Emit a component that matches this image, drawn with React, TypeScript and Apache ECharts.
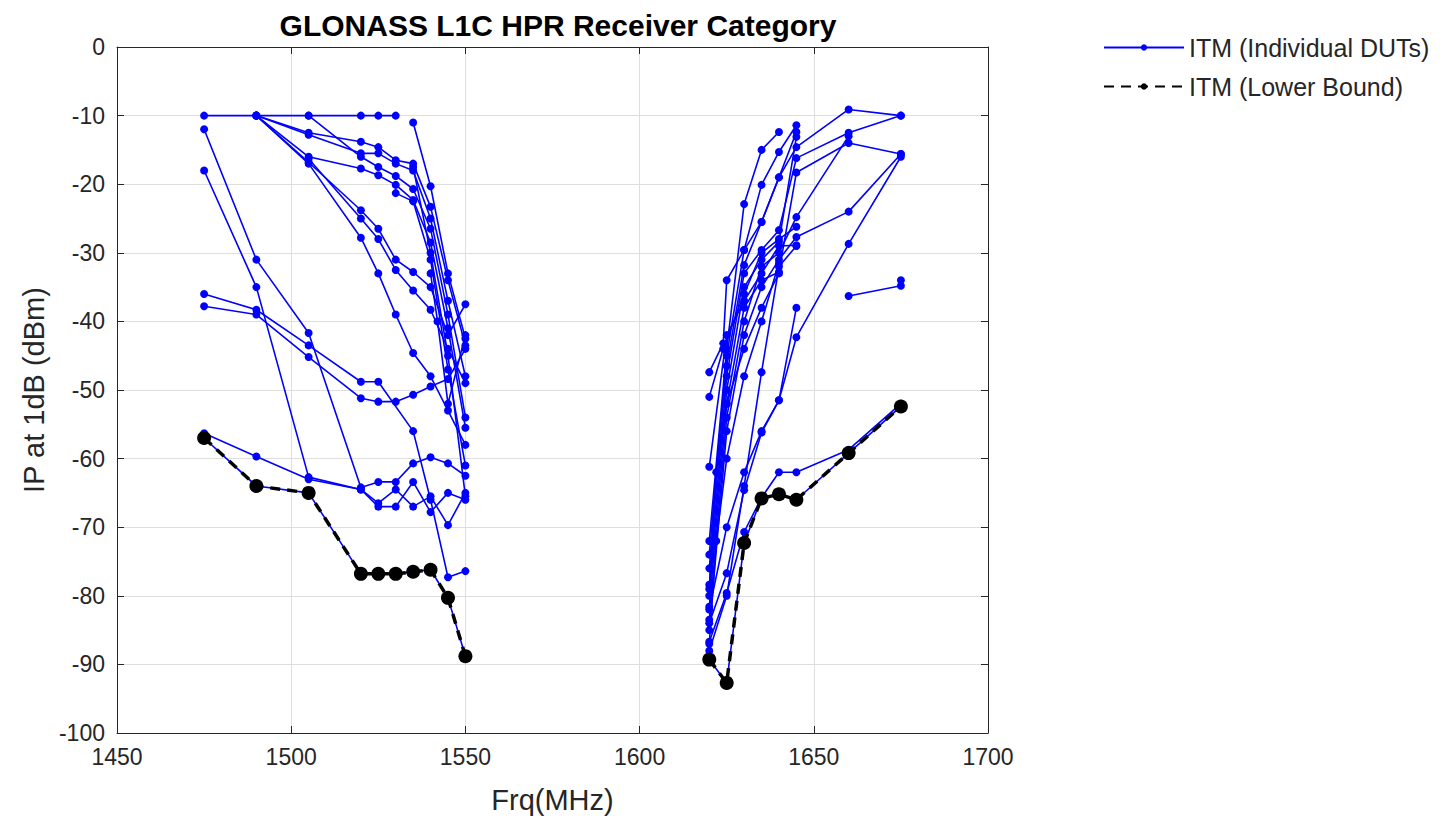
import React, { useEffect, useRef } from "react";
import * as echarts from "echarts";

type Pt = [number, number];

const TITLE = "GLONASS L1C HPR Receiver Category";
const X_NAME = "Frq(MHz)";
const Y_NAME = "IP at 1dB (dBm)";
const DUT_NAME = "ITM (Individual DUTs)";
const LB_NAME = "ITM (Lower Bound)";

// Lower bound (black dashed)
const lowerBoundLeft: Pt[] = [[1475, -57], [1490, -64], [1505, -65], [1520, -76.8], [1525, -76.8], [1530, -76.8], [1535, -76.5], [1540, -76.2], [1545, -80.3], [1550, -88.8]];
const lowerBoundRight: Pt[] = [[1620, -89.3], [1625, -92.7], [1630, -72.3], [1635, -65.8], [1640, -65.2], [1645, -66], [1660, -59.2], [1675, -52.4]];

// Individual DUTs, lower band
const dutL01: Pt[] = [[1475, -10], [1490, -10], [1505, -10], [1520, -10], [1525, -10], [1530, -10]];
const dutL02: Pt[] = [[1535, -11], [1540, -20.3], [1545, -33], [1550, -42.5]];
const dutL03: Pt[] = [[1490, -10], [1505, -12.5], [1520, -13.8], [1525, -14.6], [1530, -16.5], [1535, -17], [1540, -23.3], [1545, -34], [1550, -43.5]];
const dutL04: Pt[] = [[1490, -10], [1505, -12.8], [1520, -15.5], [1525, -15.5], [1530, -17], [1535, -18], [1540, -25], [1545, -37], [1550, -48]];
const dutL05: Pt[] = [[1505, -10], [1520, -16], [1525, -17.5], [1530, -18.8], [1535, -20.7], [1540, -26.5], [1545, -39], [1550, -54]];
const dutL06: Pt[] = [[1490, -10], [1505, -16], [1520, -17.7], [1525, -18.7], [1530, -20.1], [1535, -22.3], [1540, -28.5], [1545, -41], [1550, -55.5]];
const dutL07: Pt[] = [[1490, -10], [1505, -16.8], [1520, -23.8], [1525, -26.5], [1530, -31], [1535, -32.8], [1540, -35], [1545, -42], [1550, -37.5]];
const dutL08: Pt[] = [[1505, -16.3], [1520, -25], [1525, -28], [1530, -32.5], [1535, -35.5], [1540, -38.3], [1545, -44], [1550, -49]];
const dutL09: Pt[] = [[1490, -10], [1505, -17], [1520, -27.8], [1525, -33], [1530, -39], [1535, -44.6], [1540, -48], [1545, -53], [1550, -58]];
const dutL10: Pt[] = [[1530, -21.3], [1535, -22.5], [1540, -31], [1545, -47], [1550, -61]];
const dutL11: Pt[] = [[1475, -12], [1490, -31], [1505, -41.7], [1520, -64.2], [1525, -63.4], [1530, -63.4], [1535, -60.7], [1540, -59.8], [1545, -60.7], [1550, -62.5]];
const dutL12: Pt[] = [[1475, -18], [1490, -35], [1505, -62.7], [1520, -64.5], [1525, -67], [1530, -67], [1535, -63.4], [1540, -67.8], [1545, -65], [1550, -66]];
const dutL13: Pt[] = [[1475, -36], [1490, -38.3], [1505, -43.5], [1520, -48.8], [1525, -48.8], [1535, -56], [1540, -66], [1545, -77.3], [1550, -76.4]];
const dutL14: Pt[] = [[1475, -37.8], [1490, -39], [1505, -45.2], [1520, -51.2], [1525, -51.7], [1530, -51.7], [1535, -50.7], [1540, -49.5], [1545, -48.4], [1550, -44]];
const dutL15: Pt[] = [[1475, -56.3], [1490, -59.7], [1505, -63], [1520, -64.5], [1525, -66.5], [1530, -64.5], [1535, -67], [1540, -65.5], [1545, -69.7], [1550, -65]];
const dutL16: Pt[] = [[1475, -57], [1490, -64], [1505, -65], [1520, -76.8], [1525, -76.8], [1530, -76.8], [1535, -76.5], [1540, -76.2], [1545, -80.3], [1550, -88.8]];
const dutL17: Pt[] = [[1535, -17.5], [1540, -30], [1545, -45], [1550, -65.5]];
const dutL18: Pt[] = [[1540, -33], [1542, -40], [1545, -52], [1550, -42]];

// Individual DUTs, upper band
const dutR01: Pt[] = [[1620, -72], [1625, -44], [1630, -22.9], [1635, -15], [1640, -12.4]];
const dutR02: Pt[] = [[1620, -74], [1625, -45], [1630, -29.6], [1635, -20.1], [1640, -15.3], [1645, -11.4]];
const dutR03: Pt[] = [[1620, -76], [1625, -46.5], [1630, -31.8], [1635, -25.5], [1640, -19], [1645, -14.6], [1660, -9.1], [1675, -10]];
const dutR04: Pt[] = [[1620, -78.4], [1625, -48], [1630, -33], [1635, -29.6], [1640, -26.7], [1645, -16.2], [1660, -12.5], [1675, -10]];
const dutR05: Pt[] = [[1620, -80], [1625, -50], [1630, -35], [1635, -31], [1640, -28.4], [1645, -13.1]];
const dutR06: Pt[] = [[1620, -81.6], [1625, -52], [1630, -38], [1635, -34], [1640, -32.8], [1645, -18.3], [1660, -14], [1675, -15.6]];
const dutR07: Pt[] = [[1620, -83.5], [1625, -54], [1630, -40], [1635, -32], [1640, -30], [1645, -24.8], [1660, -13]];
const dutR08: Pt[] = [[1620, -85], [1625, -56], [1630, -42], [1635, -35], [1640, -31], [1645, -27.7], [1660, -24], [1675, -15.6]];
const dutR09: Pt[] = [[1620, -47.4], [1624, -43.2], [1625, -34], [1630, -29.6], [1635, -25.5], [1640, -19], [1645, -12.4]];
const dutR10: Pt[] = [[1620, -51], [1624, -44], [1630, -36], [1635, -30], [1640, -28], [1645, -26.2]];
const dutR11: Pt[] = [[1620, -61.2], [1625, -42], [1630, -37], [1635, -33], [1640, -29], [1645, -28.9]];
const dutR12: Pt[] = [[1620, -86.7], [1625, -79.6], [1630, -70.7], [1635, -65.7], [1640, -62], [1645, -62], [1660, -58.7], [1675, -52]];
const dutR13: Pt[] = [[1620, -89.3], [1625, -92.7], [1630, -72.3], [1635, -65.8], [1640, -65.2], [1645, -66], [1660, -59.2], [1675, -52.4]];
const dutR14: Pt[] = [[1620, -84], [1625, -76.7], [1630, -64.6], [1635, -56.2], [1640, -51.5], [1645, -42.3], [1660, -28.7], [1675, -16]];
const dutR15: Pt[] = [[1620, -82], [1625, -70], [1630, -62], [1635, -56], [1640, -51.5], [1645, -38]];
const dutR16: Pt[] = [[1620, -88], [1625, -80], [1630, -64], [1635, -47.4], [1640, -32], [1645, -29]];
const dutR17: Pt[] = [[1660, -36.3], [1675, -34.8]];
const dutR18: Pt[] = [[1675, -34]];
const dutR19: Pt[] = [[1620, -79], [1622, -62], [1625, -52], [1630, -44], [1635, -38], [1640, -33]];
const dutR20: Pt[] = [[1620, -87], [1622, -72], [1625, -60], [1630, -48], [1635, -40], [1640, -31.5]];

const dutSeriesData: Pt[][] = [
  dutL01, dutL02, dutL03, dutL04, dutL05, dutL06, dutL07, dutL08, dutL09,
  dutL10, dutL11, dutL12, dutL13, dutL14, dutL15, dutL16, dutL17, dutL18,
  dutR01, dutR02, dutR03, dutR04, dutR05, dutR06, dutR07, dutR08, dutR09,
  dutR10, dutR11, dutR12, dutR13, dutR14, dutR15, dutR16, dutR17, dutR18,
  dutR19, dutR20,
];
const lowerBoundData: Pt[][] = [lowerBoundLeft, lowerBoundRight];

const FONT = "'Liberation Sans', Arial, Helvetica, sans-serif";
const TXT = "#262626";

export default function App() {
  const ref = useRef<HTMLDivElement>(null);
  useEffect(() => {
    document.body.style.margin = "0";
    if (!ref.current) return;
    const chart = echarts.init(ref.current, undefined, { renderer: "svg" });

    const dutSeries = dutSeriesData.map((d) => ({
      type: "line",
      name: DUT_NAME,
      data: d,
      xAxisIndex: 0,
      yAxisIndex: 0,
      symbol: "circle",
      symbolSize: 8,
      showSymbol: true,
      color: "#0000ff",
      itemStyle: { color: "#0000ff" },
      lineStyle: { color: "#0000ff", width: 1.6 },
      emphasis: { disabled: true },
      z: 2,
    }));
    const lbSeries = lowerBoundData.map((d) => ({
      type: "line",
      name: LB_NAME,
      data: d,
      xAxisIndex: 0,
      yAxisIndex: 0,
      symbol: "circle",
      symbolSize: 14,
      color: "#000000",
      itemStyle: { color: "#000000" },
      lineStyle: { color: "#000000", width: 3.5, type: [10, 7] },
      emphasis: { disabled: true },
      z: 3,
    }));

    const axisLine = { show: true, onZero: false, lineStyle: { color: TXT, width: 1 } };
    const axisTick = { show: true, inside: true, length: 7, lineStyle: { color: TXT, width: 1 } };
    const splitLine = { show: true, lineStyle: { color: "#dedede", width: 1 } };
    const plain = (v: number) => String(v);

    chart.setOption({
      animation: false,
      backgroundColor: "#ffffff",
      title: {
        text: TITLE,
        left: 553,
        top: 5,
        textAlign: "center",
        textStyle: { fontFamily: FONT, fontSize: 30, fontWeight: "bold", color: "#000000" },
      },
      legend: {
        data: [DUT_NAME, LB_NAME],
        left: 1098,
        top: 30,
        orient: "vertical",
        itemWidth: 80,
        itemHeight: 8,
        itemGap: 14,
        selectedMode: false,
        textStyle: { fontFamily: FONT, fontSize: 25, color: TXT },
      },
      grid: { left: 117, top: 47, right: 460, bottom: 89, outerBoundsMode: "none" },
      xAxis: [
        {
          type: "value",
          min: 1450,
          max: 1700,
          interval: 50,
          position: "bottom",
          axisLine,
          axisTick,
          splitLine,
          axisLabel: { fontFamily: FONT, fontSize: 23, color: TXT, margin: 12, formatter: plain },
          name: X_NAME,
          nameLocation: "middle",
          nameGap: 52,
          nameTextStyle: { fontFamily: FONT, fontSize: 29, color: TXT },
        },
        {
          type: "value",
          min: 1450,
          max: 1700,
          interval: 50,
          position: "top",
          axisLine,
          axisTick,
          splitLine: { show: false },
          axisLabel: { show: false },
        },
      ],
      yAxis: [
        {
          type: "value",
          min: -100,
          max: 0,
          interval: 10,
          position: "left",
          axisLine,
          axisTick,
          splitLine,
          axisLabel: { fontFamily: FONT, fontSize: 23, color: TXT, margin: 12, formatter: plain },
          name: Y_NAME,
          nameLocation: "middle",
          nameRotate: 90,
          nameGap: 68,
          nameTextStyle: { fontFamily: FONT, fontSize: 29, color: TXT },
        },
        {
          type: "value",
          min: -100,
          max: 0,
          interval: 10,
          position: "right",
          axisLine,
          axisTick,
          splitLine: { show: false },
          axisLabel: { show: false },
        },
      ],
      series: [...dutSeries, ...lbSeries],
    });
    return () => chart.dispose();
  }, []);
  return <div ref={ref} style={{ width: 1448, height: 822 }} />;
}
